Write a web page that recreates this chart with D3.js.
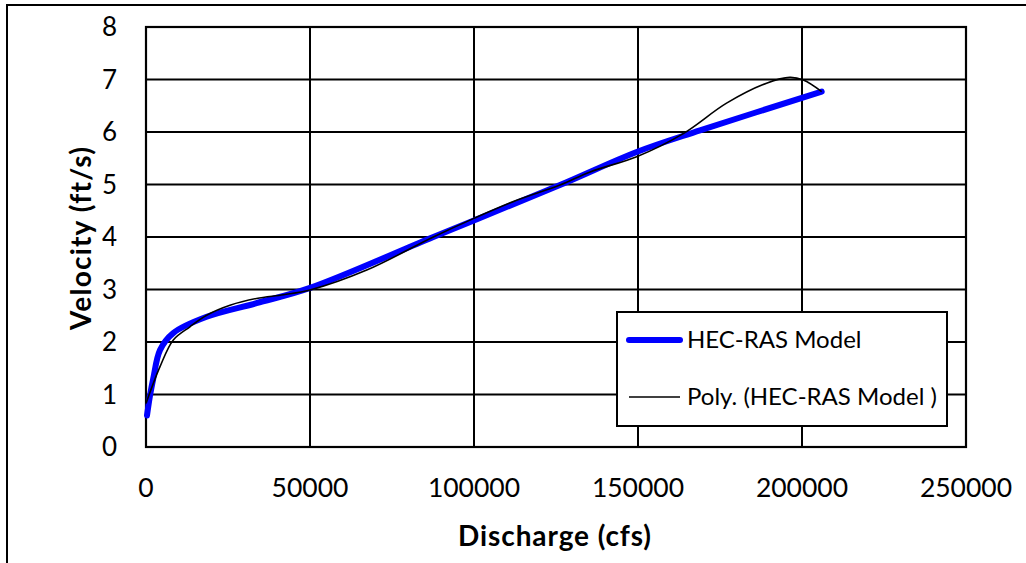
<!DOCTYPE html>
<html><head><meta charset="utf-8">
<script src="https://cdn.jsdelivr.net/npm/d3@7"></script>
<style>body{margin:0;background:#fff}svg{display:block}</style>
</head><body>
<script>
const xTicks = [0, 50000, 100000, 150000, 200000, 250000];
const yTicks = [0, 1, 2, 3, 4, 5, 6, 7, 8];
const seriesNames = ["HEC-RAS Model", "Poly. (HEC-RAS Model )"];
const modelQ = [300, 1200, 2200, 4300, 8300, 18500, 33700, 50000, 87600, 126200, 149600, 168900, 206000];
const modelV = [0.6, 0.97, 1.3, 1.85, 2.17, 2.48, 2.74, 3.03, 4.0, 4.99, 5.62, 6.03, 6.77];
const polyQ = [0, 4270, 8330, 13400, 18500, 25600, 33700, 41900, 50000, 67300, 87600, 99800, 113000, 126200, 135400, 149600, 163800, 177000, 189200, 196300, 200400, 206000];
const polyV = [0.83, 1.53, 2.04, 2.29, 2.51, 2.70, 2.83, 2.90, 2.99, 3.37, 4.0, 4.35, 4.70, 4.99, 5.24, 5.53, 5.97, 6.55, 6.93, 7.04, 6.99, 6.77];

const W = 1026, H = 563;
const m = {left: 146, top: 27, right: 966, bottom: 447};
const svg = d3.select("body").append("svg").attr("width", W).attr("height", H)
  .style("font-family", "Lato, 'Open Sans', sans-serif");

svg.append("rect").attr("x", 7).attr("y", 5).attr("width", W + 20).attr("height", H + 20)
  .attr("fill", "#fff").attr("stroke", "#000").attr("stroke-width", 2);

const x = d3.scaleLinear().domain([0, 250000]).range([m.left, m.right]);
const y = d3.scaleLinear().domain([0, 8]).range([m.bottom, m.top]);

// gridlines
svg.append("g").selectAll("line.v").data(xTicks).join("line")
  .attr("x1", d => x(d)).attr("x2", d => x(d)).attr("y1", m.top).attr("y2", m.bottom)
  .attr("stroke", "#000").attr("stroke-width", 2);
svg.append("g").selectAll("line.h").data(yTicks).join("line")
  .attr("y1", d => y(d)).attr("y2", d => y(d)).attr("x1", m.left).attr("x2", m.right)
  .attr("stroke", "#000").attr("stroke-width", 2);
svg.append("rect").attr("x", m.left).attr("y", m.top).attr("width", m.right - m.left)
  .attr("height", m.bottom - m.top).attr("fill", "none").attr("stroke", "#000").attr("stroke-width", 2.2);

// tick labels
svg.append("g").selectAll("text").data(yTicks).join("text")
  .attr("x", 117).attr("y", d => y(d)).attr("dy", "0.35em").attr("text-anchor", "end")
  .attr("font-size", 26).attr("fill", "#000").text(d => d);
svg.append("g").selectAll("text").data(xTicks).join("text")
  .attr("x", d => x(d)).attr("y", 488).attr("dy", "0.35em").attr("text-anchor", "middle")
  .attr("font-size", 26.5).attr("fill", "#000").text(d => d);

// axis titles
svg.append("text").attr("x", 555).attr("y", 536).attr("dy", "0.35em").attr("text-anchor", "middle")
  .attr("font-size", 28).attr("font-weight", "bold").attr("letter-spacing", 0.9).text("Discharge (cfs)");
svg.append("text").attr("transform", "translate(81,238) rotate(-90)").attr("dy", "0.35em")
  .attr("text-anchor", "middle").attr("font-size", 28).attr("font-weight", "bold")
  .attr("letter-spacing", 1.2).text("Velocity (ft/s)");

// series
const modelData = modelQ.map((q, i) => [q, modelV[i]]);
const polyData = polyQ.map((q, i) => [q, polyV[i]]);
const line = d3.line().x(d => x(d[0])).y(d => y(d[1])).curve(d3.curveCatmullRom.alpha(0.5));
svg.append("path").datum(modelData).attr("d", line).attr("fill", "none")
  .attr("stroke", "#0000ff").attr("stroke-width", 6).attr("stroke-linecap", "round").attr("stroke-linejoin", "round");
svg.append("path").datum(polyData).attr("d", line).attr("fill", "none")
  .attr("stroke", "#000").attr("stroke-width", 1.6);

// legend
const lg = svg.append("g");
lg.append("rect").attr("x", 617).attr("y", 312).attr("width", 330).attr("height", 114)
  .attr("fill", "#fff").attr("stroke", "#000").attr("stroke-width", 2);
const legY = [340, 397];
lg.append("line").attr("x1", 629).attr("x2", 680).attr("y1", legY[0]).attr("y2", legY[0])
  .attr("stroke", "#0000ff").attr("stroke-width", 6).attr("stroke-linecap", "round");
lg.append("line").attr("x1", 629).attr("x2", 680).attr("y1", legY[1]).attr("y2", legY[1])
  .attr("stroke", "#000").attr("stroke-width", 1.6);
lg.selectAll("text").data(seriesNames).join("text")
  .attr("x", 687).attr("y", (d, i) => legY[i]).attr("dy", "0.35em")
  .attr("font-size", 24).attr("fill", "#000").text(d => d);
</script>
</body></html>
